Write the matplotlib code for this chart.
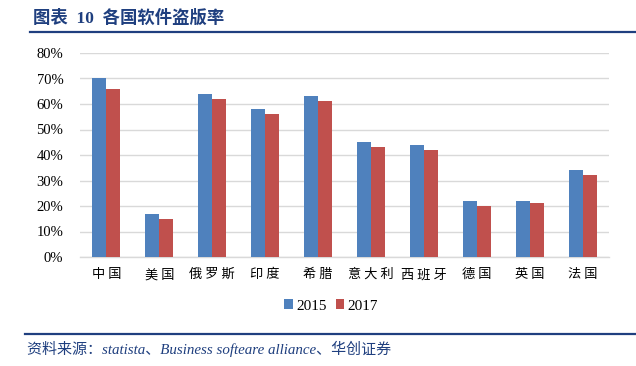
import matplotlib
matplotlib.use("Agg")
import matplotlib.pyplot as plt
from matplotlib.lines import Line2D
import numpy as np

# données
countries = ["中国", "美国", "俄罗斯", "印度", "希腊", "意大利", "西班牙", "德国", "英国", "法国"]
rate_2015 = [70, 17, 64, 58, 63, 45, 44, 22, 22, 34]
rate_2017 = [66, 15, 62, 56, 61, 43, 42, 20, 21, 32]
yticks = [0, 10, 20, 30, 40, 50, 60, 70, 80]

blue = "#4F81BD"
red = "#C0504D"
navy = "#1F3F7F"

plt.rcParams["font.family"] = ["Liberation Serif", "Noto Sans CJK SC"]

fig = plt.figure(figsize=(6.36, 3.66), dpi=100)
ax = fig.add_axes([80 / 636, 109 / 366, 529 / 636, 204 / 366])

x = np.arange(len(countries))
w = 0.264
ax.bar(x - w / 2, rate_2015, w, color=blue, label="2015", zorder=3)
ax.bar(x + w / 2, rate_2017, w, color=red, label="2017", zorder=3)

ax.set_xlim(-0.5, len(countries) - 0.5)
ax.set_ylim(0, 80)
ax.set_yticks(yticks)
ax.set_yticklabels([f"{v}%" for v in yticks], fontsize=10.5)
ax.set_xticks(x)
ax.set_xticklabels([" ".join(c) for c in countries], fontsize=9.5,
                   family=["Noto Sans CJK SC"])
ax.tick_params(axis="both", length=0)
ax.tick_params(axis="y", pad=12)
ax.tick_params(axis="x", pad=8)
ax.grid(axis="y", color="#D9D9D9", linewidth=1, zorder=0)
for s in ["top", "right", "left"]:
    ax.spines[s].set_visible(False)
ax.spines["bottom"].set_color("#D9D9D9")
ax.spines["bottom"].set_linewidth(1)

ax.legend(loc="center", bbox_to_anchor=(331 / 636, 1 - 306 / 366),
          bbox_transform=fig.transFigure, ncol=2, frameon=False,
          fontsize=11, handlelength=0.55, handleheight=0.55,
          handletextpad=0.2, columnspacing=0.6)

# titre et source
fig.text(33 / 636, 1 - 18 / 366, "图表  10  各国软件盗版率", fontsize=12.5,
         fontweight="bold", color=navy, va="center",
         family=["Liberation Serif", "Noto Sans CJK SC"])
fig.add_artist(Line2D([30 / 636, 1], [1 - 32 / 366] * 2, color=navy, linewidth=1.6))
fig.add_artist(Line2D([25 / 636, 1], [1 - 334 / 366] * 2, color=navy, linewidth=1.6))
fig.text(27 / 636, 1 - 349 / 366, "资料来源：statista、Business softeare alliance、华创证券",
         fontsize=10.8, style="italic", color=navy, va="center")

fig.savefig("out.png", dpi=100)
